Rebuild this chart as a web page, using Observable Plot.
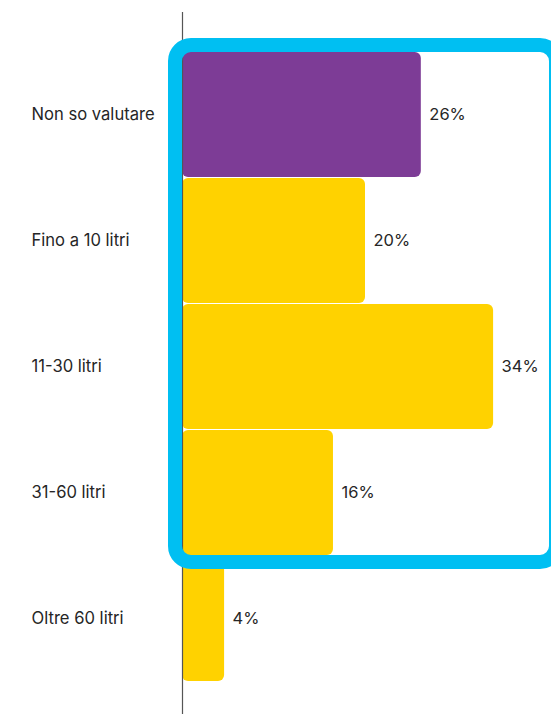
<!DOCTYPE html>
<html>
<head>
<meta charset="utf-8">
<script src="https://cdn.jsdelivr.net/npm/d3@7"></script>
<script src="https://cdn.jsdelivr.net/npm/@observablehq/plot@0.6"></script>
<style>
  html, body { margin: 0; padding: 0; background: #fff; }
  #chart svg { display: block; }
</style>
</head>
<body>
<div id="chart"></div>
<script>
const categories = ["Non so valutare", "Fino a 10 litri", "11-30 litri", "31-60 litri", "Oltre 60 litri"];
const values = [26.1, 20, 34, 16.5, 4.6];
const valueLabels = ["26%", "20%", "34%", "16%", "4%"];
const highlighted = ["Non so valutare", "Fino a 10 litri", "11-30 litri", "31-60 litri"];

const data = categories.map((c, i) => ({cat: c, value: values[i], label: valueLabels[i], purple: i === 0}));

const W = 551, H = 714;
const font = "Inter, 'Noto Sans', sans-serif";

const plot = Plot.plot({
  width: W,
  height: H,
  marginTop: 12,
  marginBottom: 0,
  marginLeft: 0,
  marginRight: 0,
  style: {fontFamily: font, background: "#fff", overflow: "visible"},
  x: {domain: [0, 40], range: [182, 548], axis: null},
  y: {domain: categories, range: [50, 683], padding: 0.01, axis: null},
  marks: [
    Plot.barX(data, {
      y: "cat", x: "value",
      fill: d => d.purple ? "#7d3c96" : "#ffd200",
      rx: 6
    }),
    Plot.text(data, {
      y: "cat", x: "value", text: "label",
      textAnchor: "start", dx: 8,
      fontSize: 16.5, fill: "#262626"
    }),
    Plot.text(data, {
      y: "cat", text: "cat", frameAnchor: "left",
      textAnchor: "start", dx: 31,
      fontSize: 16.6, fill: "#262626"
    }),
    Plot.ruleX([0], {stroke: "#555", strokeWidth: 1.2})
  ]
});

document.getElementById("chart").appendChild(plot);

// highlight frame around the first four categories, derived from the scales
const xs = plot.scale("x"), ys = plot.scale("y");
const sw = 14;
const x0 = xs.apply(0);
const yTop = ys.apply(highlighted[0]);
const yBot = ys.apply(highlighted[highlighted.length - 1]) + ys.bandwidth;
const svg = d3.select(plot);
svg.append("rect")
  .attr("x", x0 - sw / 2)
  .attr("y", yTop - sw / 2)
  .attr("width", (W - 2 + sw / 2) - (x0 - sw / 2))
  .attr("height", (yBot + sw / 2) - (yTop - sw / 2))
  .attr("rx", 16)
  .attr("fill", "none")
  .attr("stroke", "#00bff2")
  .attr("stroke-width", sw);
</script>
</body>
</html>
